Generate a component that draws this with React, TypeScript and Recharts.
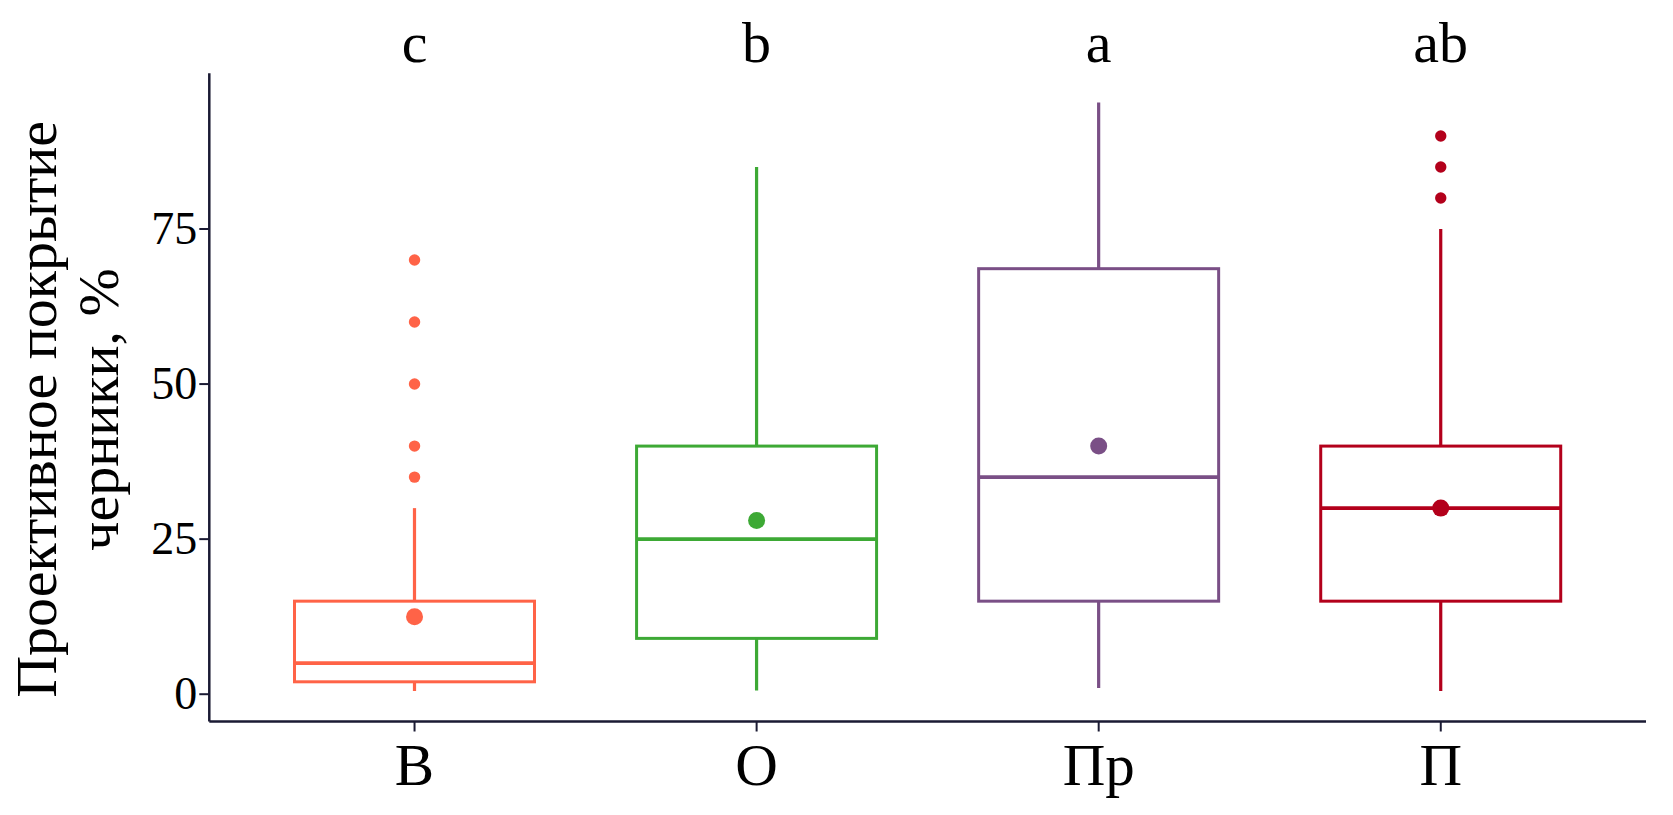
import React from "react";
import {
  ComposedChart,
  Bar,
  Scatter,
  XAxis,
  YAxis,
  LabelList,
  Label,
} from "recharts";

// groups and their values
const groups = ["В", "О", "Пр", "П"];
const letters = ["c", "b", "a", "ab"];
const colors = ["#FF6347", "#3DA935", "#7A4F86", "#B3001B"];
const whiskerLow = [0.5, 0.6, 1, 0.5];
const q1 = [2, 9, 15, 15];
const median = [5, 25, 35, 30];
const q3 = [15, 40, 68.6, 40];
const whiskerHigh = [30, 85, 95.4, 75];
const means = [12.5, 28, 40, 30];
const outliersB = [70, 60, 50, 40, 35];
const outliersP = [90, 85, 80];
const yTicks = [0, 25, 50, 75];

const FONT = "'Liberation Serif', 'Times New Roman', serif";
const AXIS = "#1a1a33";

const data = groups.map((name, i) => ({
  name,
  range: [whiskerLow[i], whiskerHigh[i]],
  q1: q1[i],
  median: median[i],
  q3: q3[i],
  mean: means[i],
  color: colors[i],
  letter: letters[i],
}));

const outB = outliersB.map((v) => ({ name: "В", value: v, color: colors[0] }));
const outP = outliersP.map((v) => ({ name: "П", value: v, color: colors[3] }));

// the bar spans lo..hi; the box parts are placed on the same scale
function BoxShape(props: any) {
  const { x, y, width, height, payload } = props;
  if (!payload) return null;
  const [lo, hi] = payload.range;
  const top = Math.min(y, y + height);
  const bot = Math.max(y, y + height);
  const py = (v: number) => bot - ((v - lo) / (hi - lo)) * (bot - top);
  const cx = x + width / 2;
  const c = payload.color;
  return (
    <g>
      <line x1={cx} x2={cx} y1={py(hi)} y2={py(payload.q3)} stroke={c} strokeWidth={3.2} />
      <line x1={cx} x2={cx} y1={py(payload.q1)} y2={py(lo)} stroke={c} strokeWidth={3.2} />
      <rect
        x={x}
        y={py(payload.q3)}
        width={width}
        height={py(payload.q1) - py(payload.q3)}
        fill="#fff"
        stroke={c}
        strokeWidth={3}
      />
      <line x1={x} x2={x + width} y1={py(payload.median)} y2={py(payload.median)} stroke={c} strokeWidth={3.8} />
    </g>
  );
}

const Dot = (r: number) => (props: any) => {
  const { cx, cy, payload } = props;
  if (cx == null || cy == null || isNaN(cy)) return <g />;
  return <circle cx={cx} cy={cy} r={r} fill={payload.color} />;
};

const YTick = (props: any) => {
  const { x, y, payload } = props;
  return (
    <text x={x + 1} y={y + 15} textAnchor="end" fontFamily={FONT} fontSize={46} fill="#000">
      {payload.value}
    </text>
  );
};

const XTick = (props: any) => {
  const { x, y, payload } = props;
  return (
    <text x={x} y={y + 51.5} textAnchor="middle" fontFamily={FONT} fontSize={59} fill="#000">
      {payload.value}
    </text>
  );
};

const renderLetter = (props: any) => {
  const { x, width, value } = props;
  return (
    <text x={x + width / 2} y={53.7} textAnchor="middle" fontFamily={FONT} fontSize={58} fill="#000">
      {value}
    </text>
  );
};

const YTitle = (props: any) => {
  const vb = props.viewBox || { y: 65, height: 648 };
  const cy = vb.y + vb.height / 2 + 12;
  return (
    <g fontFamily={FONT} fontSize={58} fill="#000">
      <text x={48} y={cy} transform={`rotate(-90, 48, ${cy})`} textAnchor="middle">
        Проективное покрытие
      </text>
      <text x={110} y={cy} transform={`rotate(-90, 110, ${cy})`} textAnchor="middle">
        черники, %
      </text>
    </g>
  );
};

export default function App() {
  return (
    <div style={{ background: "#fff" }}>
      <ComposedChart
        width={1657}
        height={799}
        data={data}
        margin={{ top: 65.3, right: 19, bottom: 0, left: 101.3 }}
      >
        <XAxis
          dataKey="name"
          type="category"
          allowDuplicatedCategory={false}
          padding={{ left: 34.2, right: 34.2 }}
          height={85.5}
          tickSize={10}
          axisLine={{ stroke: AXIS, strokeWidth: 2.5 }}
          tickLine={{ stroke: AXIS, strokeWidth: 2 }}
          tick={<XTick />}
          interval={0}
        />
        <YAxis
          type="number"
          domain={[-4.4, 100.1]}
          ticks={yTicks}
          allowDataOverflow
          width={100}
          tickSize={10}
          tickMargin={3}
          axisLine={{ stroke: AXIS, strokeWidth: 2.5 }}
          tickLine={{ stroke: AXIS, strokeWidth: 2 }}
          tick={<YTick />}
        >
          <Label content={<YTitle />} />
        </YAxis>
        <Bar dataKey="range" barSize={240} shape={<BoxShape />} isAnimationActive={false}>
          <LabelList dataKey="letter" content={renderLetter} />
        </Bar>
        <Scatter dataKey="mean" shape={Dot(8.5)} isAnimationActive={false} />
        <Scatter data={outB} dataKey="value" shape={Dot(5.7)} isAnimationActive={false} />
        <Scatter data={outP} dataKey="value" shape={Dot(5.7)} isAnimationActive={false} />
      </ComposedChart>
    </div>
  );
}
